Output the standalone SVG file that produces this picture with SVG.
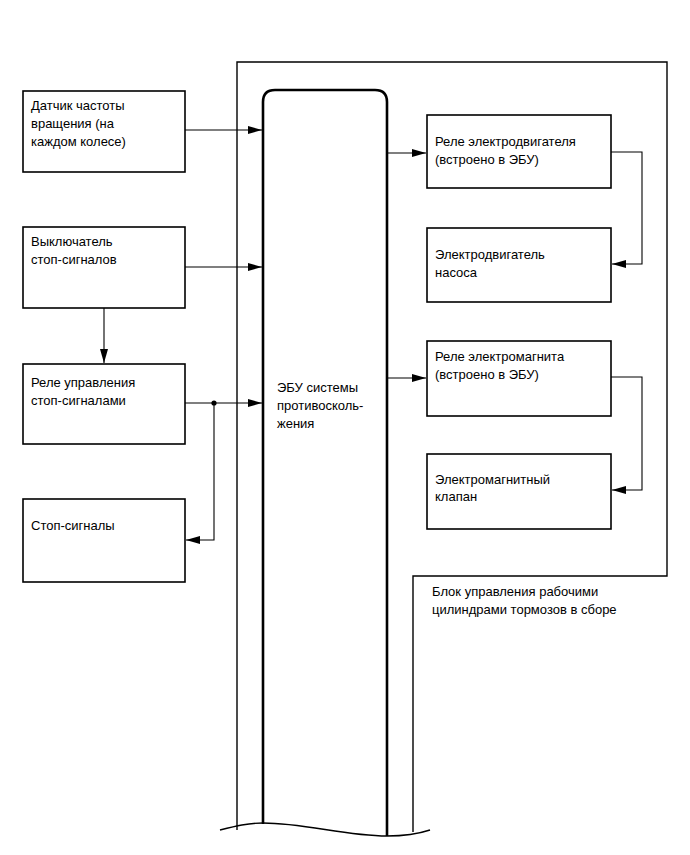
<svg xmlns="http://www.w3.org/2000/svg" width="690" height="855" viewBox="0 0 690 855">
<style>
.box{fill:#fff;stroke:#000;stroke-width:1.6}
.frame{fill:none;stroke:#000;stroke-width:1.4}
.ecu{fill:#fff;stroke:#000;stroke-width:2.6}
.ln{fill:none;stroke:#000;stroke-width:1.1}
text{font-family:"Liberation Sans",Arial,sans-serif;font-size:13px;fill:#000}
</style>
<defs>
<marker id="ah" markerWidth="14" markerHeight="8" refX="14" refY="4" orient="auto" markerUnits="userSpaceOnUse">
<path d="M0,0 L14,4 L0,8 Z" fill="#000"/>
</marker>
</defs>
<rect width="690" height="855" fill="#fff"/>
<g id="assembly">
<path class="frame" d="M237,830 V62 H667 V576 H413 V832"/>
<text x="432" y="596">Блок управления рабочими</text>
<text x="432" y="614">цилиндрами тормозов в сборе</text>
</g>
<g id="ecu">
<path class="ecu" d="M263,824 V102 Q263,90 275,90 H375 Q387,90 387,102 V836"/>
<text x="277" y="392">ЭБУ системы</text>
<text x="277" y="410">противосколь-</text>
<text x="277" y="428">жения</text>
</g>
<g id="cut">
<path class="frame" d="M220,830 C236,826 248,823 263,823 C305,823 345,836 387,836 C403,836 418,834 430,830" stroke-width="1.2"/>
</g>
<g id="sensor">
<rect class="box" x="23" y="91" width="162" height="81"/>
<text x="31" y="110">Датчик частоты</text>
<text x="31" y="128">вращения (на</text>
<text x="31" y="146">каждом колесе)</text>
</g>
<g id="switch">
<rect class="box" x="23" y="227" width="162" height="81"/>
<text x="31" y="246">Выключатель</text>
<text x="31" y="264">стоп-сигналов</text>
</g>
<g id="relay">
<rect class="box" x="23" y="364" width="162" height="80"/>
<text x="31" y="387">Реле управления</text>
<text x="31" y="405">стоп-сигналами</text>
</g>
<g id="lamps">
<rect class="box" x="23" y="499" width="162" height="83"/>
<text x="31" y="530">Стоп-сигналы</text>
</g>
<g id="motor-relay">
<rect class="box" x="427" y="115" width="184" height="73"/>
<text x="435" y="146">Реле электродвигателя</text>
<text x="435" y="164">(встроено в ЭБУ)</text>
</g>
<g id="pump-motor">
<rect class="box" x="427" y="228" width="184" height="74"/>
<text x="435" y="259">Электродвигатель</text>
<text x="435" y="277">насоса</text>
</g>
<g id="solenoid-relay">
<rect class="box" x="427" y="341" width="184" height="75"/>
<text x="435" y="361">Реле электромагнита</text>
<text x="435" y="379">(встроено в ЭБУ)</text>
</g>
<g id="solenoid-valve">
<rect class="box" x="427" y="454" width="184" height="75"/>
<text x="435" y="484">Электромагнитный</text>
<text x="435" y="501">клапан</text>
</g>
<g id="connectors">
<path class="ln" d="M185,130 H262" marker-end="url(#ah)"/>
<path class="ln" d="M185,267 H262" marker-end="url(#ah)"/>
<path class="ln" d="M104,308 V363" marker-end="url(#ah)"/>
<path class="ln" d="M185,403 H262" marker-end="url(#ah)"/>
<path class="ln" d="M214,403 V540 H186" marker-end="url(#ah)"/>
<circle cx="214" cy="403" r="2.6" fill="#000"/>
<path class="ln" d="M388,153 H426" marker-end="url(#ah)"/>
<path class="ln" d="M611,152 H642 V264 H612" marker-end="url(#ah)"/>
<path class="ln" d="M388,378 H426" marker-end="url(#ah)"/>
<path class="ln" d="M611,377 H642 V490 H612" marker-end="url(#ah)"/>
</g>
</svg>
